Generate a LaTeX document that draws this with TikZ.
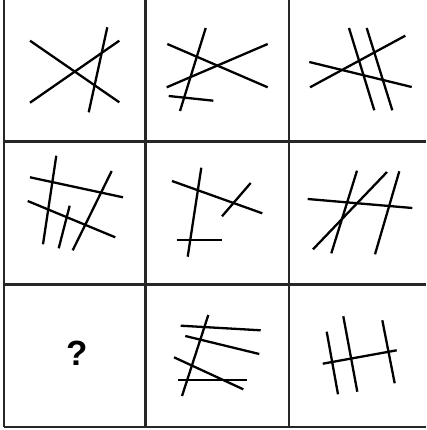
\documentclass[tikz,border=0pt]{standalone}
\usepackage{fontspec}
\setsansfont{Liberation Sans}
\usepackage{tikz}

\begin{document}
\begin{tikzpicture}[
  x=1pt, y=-1pt,
  frame/.style={line width=2.4pt, draw=black!85},
  stroke/.style={line width=2.3pt, draw=black},
  qmark/.style={font=\fontsize{35}{40}\selectfont\sffamily\bfseries, inner sep=0pt}
]
  \useasboundingbox (0,0) rectangle (426,430);

  % Grid
  \draw[frame] (4,0) -- (4,427);
  \draw[frame] (145.5,0) -- (145.5,427);
  \draw[frame] (289,0) -- (289,427);
  \draw[frame] (4,141.5) -- (426,141.5);
  \draw[frame] (4,284.5) -- (426,284.5);
  \draw[frame] (4,427) -- (426,427);

  % Row 1
  \draw[stroke] (30,40.7) -- (119.3,102.3);
  \draw[stroke] (30,102.7) -- (119.3,40.7);
  \draw[stroke] (107.3,27.3) -- (88.7,112.3);

  \draw[stroke] (167.3,44) -- (267.7,87.3);
  \draw[stroke] (166.7,87.3) -- (267.7,44);
  \draw[stroke] (205.7,28) -- (180,111);
  \draw[stroke] (168.7,96) -- (213.3,100.7);

  \draw[stroke] (309.3,62) -- (411.7,87);
  \draw[stroke] (310,87.3) -- (405.3,35.7);
  \draw[stroke] (349,28) -- (374.3,110.3);
  \draw[stroke] (366.7,28) -- (392.3,110.3);

  % Row 2
  \draw[stroke] (30,177.3) -- (123,197.3);
  \draw[stroke] (27.7,201) -- (115.3,237.3);
  \draw[stroke] (56.3,155.7) -- (43,244.3);
  \draw[stroke] (69.7,205.7) -- (58.7,248.3);
  \draw[stroke] (111.7,171) -- (72.7,250.3);

  \draw[stroke] (172,181) -- (262.3,213.3);
  \draw[stroke] (201.3,167.7) -- (187.7,256.7);
  \draw[stroke] (250.7,183) -- (222,216.3);
  \draw[stroke] (176.7,240.3) -- (221.7,240.3);

  \draw[stroke] (307.7,199) -- (412.3,208);
  \draw[stroke] (357,170.7) -- (331.3,253.3);
  \draw[stroke] (387,172) -- (313,249.3);
  \draw[stroke] (399.3,171.3) -- (375,254.3);

  % Row 3
  \node[qmark] (missing) at (76.7,353.3) {?};

  \draw[stroke] (180.7,325.7) -- (260.7,330.3);
  \draw[stroke] (185.3,336) -- (259.3,354);
  \draw[stroke] (174,357.3) -- (243.3,389.3);
  \draw[stroke] (177.7,380) -- (247.3,380);
  \draw[stroke] (208.3,315) -- (182,396);

  \draw[stroke] (322.7,363.7) -- (396.7,350.3);
  \draw[stroke] (326.7,331.7) -- (338,394.3);
  \draw[stroke] (343.3,316.3) -- (357.3,391.7);
  \draw[stroke] (382.3,320.3) -- (394.7,383.3);
\end{tikzpicture}
\end{document}
